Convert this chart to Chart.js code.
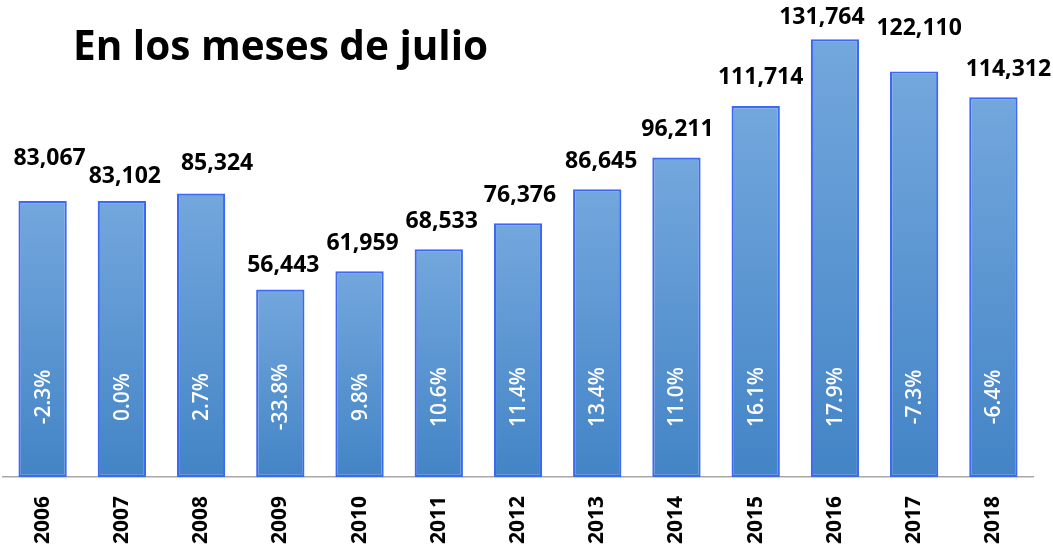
<!DOCTYPE html>
<html>
<head>
<meta charset="utf-8">
<script src="https://cdn.jsdelivr.net/npm/chart.js@4.4.1/dist/chart.umd.min.js"></script>
<style>
  html, body { margin: 0; padding: 0; background: #fff; }
  #wrap { position: relative; width: 1053px; height: 551px; }
</style>
</head>
<body>
<div id="wrap"><canvas id="chart"></canvas></div>
<script>
// data
const years = ['2006', '2007', '2008', '2009', '2010', '2011', '2012', '2013', '2014', '2015', '2016', '2017', '2018'];
const visitors = [83067, 83102, 85324, 56443, 61959, 68533, 76376, 86645, 96211, 111714, 131764, 122110, 114312];
const change = [-2.3, 0.0, 2.7, -33.8, 9.8, 10.6, 11.4, 13.4, 11.0, 16.1, 17.9, -7.3, -6.4];
const titleText = 'En los meses de julio';

// small nudges so the value labels sit where they do in the original
const labelNudge = [[7, -15], [3, 3], [16, -2], [3, 4], [3, 0], [3, 0], [2, 0], [4, 0], [1, 0], [5, 0], [-13, 6], [5, -15], [15, 0]];

function barGradient(ctx) {
    const chart = ctx.chart;
    const area = chart.chartArea;
    if (!area || ctx.dataIndex === undefined) return '#5b95d3';
    const y = chart.scales.y;
    const top = y.getPixelForValue(visitors[ctx.dataIndex]);
    const bottom = y.getPixelForValue(0);
    const g = chart.ctx.createLinearGradient(0, top, 0, bottom);
    g.addColorStop(0, '#73a7dd');
    g.addColorStop(1, '#4384c6');
    return g;
}

const labelsPlugin = {
    id: 'barLabels',
    afterDatasetsDraw(c) {
        const ctx = c.ctx;
        const meta = c.getDatasetMeta(0);
        const base = c.scales.y.getPixelForValue(0);
        ctx.save();
        meta.data.forEach((bar, i) => {
            // value above the bar
            const [dx, dy] = labelNudge[i];
            ctx.fillStyle = '#000';
            ctx.font = 'bold 23px "Open Sans"';
            ctx.textAlign = 'center';
            ctx.textBaseline = 'middle';
            ctx.fillText(visitors[i].toLocaleString('en-US'), bar.x + dx, bar.y - 28 + dy);
            // yearly change inside the bar
            ctx.save();
            ctx.translate(bar.x, base - 80);
            ctx.rotate(-Math.PI / 2);
            ctx.fillStyle = '#fff';
            ctx.font = '600 21px "Open Sans"';
            ctx.fillText(change[i].toFixed(1) + '%', 0, 1);
            ctx.restore();
        });
        // title
        ctx.fillStyle = '#000';
        ctx.font = 'bold 40.5px "Open Sans"';
        ctx.textAlign = 'left';
        ctx.textBaseline = 'alphabetic';
        ctx.fillText(titleText, 73, 60);
        ctx.restore();
    },
};

new Chart(document.getElementById('chart'), {
    type: 'bar',
    data: {
        labels: years,
        datasets: [{
            data: visitors,
            backgroundColor: barGradient,
            borderColor: '#3d68f5',
            borderWidth: 2.2,
            borderSkipped: false,
            barPercentage: 0.61,
            categoryPercentage: 1.0,
        }],
    },
    options: {
        responsive: true,
        maintainAspectRatio: false,
        animation: false,
        devicePixelRatio: 1,
        layout: {
            padding: { top: 12, left: 3, right: 20, bottom: 6 },
        },
        plugins: {
            legend: { display: false },
            tooltip: { enabled: false },
        },
        scales: {
            x: {
                grid: { display: false, drawTicks: false },
                border: { display: true, color: '#a8a8a8', width: 1.5 },
                ticks: {
                    color: '#000',
                    font: { family: 'Open Sans', size: 21, weight: 'bold' },
                    minRotation: 90,
                    maxRotation: 90,
                    autoSkip: false,
                    padding: 19,
                },
                afterFit(s) {
                    s.paddingLeft = 0;
                    s.paddingRight = 0;
                    s.height = 68;
                },
            },
            y: {
                display: false,
                min: 0,
                max: 140000,
            },
        },
    },
    plugins: [labelsPlugin],
});
</script>
</body>
</html>
